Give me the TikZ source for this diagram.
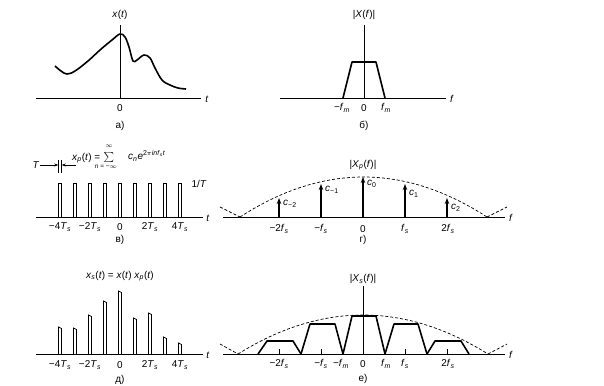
\documentclass[tikz,border=0pt]{standalone}
\usepackage{fontspec}
\setmainfont{Liberation Sans}
\usetikzlibrary{arrows.meta}
\newcommand\I[1]{\textit{#1}}
\newcommand\sbs[1]{\textsubscript{#1}}
\begin{document}
\begin{tikzpicture}[x=1bp,y=-1bp,
  lbl/.style={font=\fontsize{10}{11}\selectfont, inner sep=0pt},
  small/.style={font=\fontsize{6.5}{7}\selectfont, inner sep=0pt},
  ax/.style={line width=0.8bp},
  sig/.style={line width=1.6bp, line join=round},
  pulse/.style={line width=0.7bp},
  dsh/.style={dash pattern=on 3bp off 2bp, line width=0.7bp},
  imp/.style={line width=1.6bp, -{Stealth[length=6bp,width=4.5bp]}},
  dimarrow/.style={line width=0.6bp, -{Stealth[length=4bp,width=3bp]}},
]
\useasboundingbox (0,0) rectangle (604,385);
\fill[white] (0,0) rectangle (604,385);

% ---------------- panel a
\coordinate (a0) at (36,98); \coordinate (a1) at (201,98);
\draw[ax] (a0) -- (a1);
\node[lbl] (at) at (207,99) {\I{t}};
\coordinate (ao) at (120,98); \coordinate (ay) at (120,25);
\draw[ax] (ao) -- (ay);
\node[lbl] (axt) at (120,15) {\I{x}(\I{t})};
\node[lbl] (azero) at (120,108) {0};
\node[lbl] (acap) at (120,126) {а)};
\draw[sig] plot[smooth, tension=0.6] coordinates {(55,66) (61,71) (67,74) (75,71) (88,61) (100,50) (112,40) (120,34) (125,37) (129,47) (133,61) (137,60) (144,55) (150,58) (155,68) (162,80) (170,85) (178,88) (186,89)};

% ---------------- panel b
\coordinate (b0) at (280,98); \coordinate (b1) at (446,98);
\draw[ax] (b0) -- (b1);
\node[lbl] (bf) at (452,99) {\I{f}};
\coordinate (bo) at (364,98); \coordinate (by) at (364,25);
\draw[ax] (bo) -- (by);
\node[lbl] (bX) at (364,15) {|\I{X}(\I{f})|};
\draw[sig] (343,98) -- (352,62) -- (376,62) -- (385,98);
\node[lbl] (bfm1) at (342,108) {−\I{f}\sbs{\I{m}}};
\node[lbl] (bzero) at (364,108) {0};
\node[lbl] (bfm2) at (386,108) {\I{f}\sbs{\I{m}}};
\node[lbl] (bcap) at (364,126) {б)};

% ---------------- panel c (в)
\coordinate (c0) at (36,217); \coordinate (c1) at (203,217);
\draw[ax] (c0) -- (c1);
\node[lbl] (ct) at (208,218) {\I{t}};
\foreach \x in {60,75,...,180}
  \draw[pulse] (\x-1.5,217) -- (\x-1.5,183) -- (\x+1.5,183) -- (\x+1.5,217);
\node[lbl] (cone) at (199,184) {1/\I{T}};
\node[lbl] (cm4) at (60,227) {−4\I{T}\sbs{\I{s}}};
\node[lbl] (cm2) at (90,227) {−2\I{T}\sbs{\I{s}}};
\node[lbl] (czero) at (120,227) {0};
\node[lbl] (cp2) at (150,227) {2\I{T}\sbs{\I{s}}};
\node[lbl] (cp4) at (180,227) {4\I{T}\sbs{\I{s}}};
\node[lbl] (ccap) at (120,240) {в)};
% T dimension
\draw[pulse] (58.5,160) -- (58.5,173);
\draw[pulse] (61.5,160) -- (61.5,173);
\node[lbl] (cT) at (36,165) {\I{T}};
\coordinate (cTl) at (58.3,165); \coordinate (cTr) at (61.7,165);
\coordinate (cTs) at (76,165);
\draw[dimarrow] (cT.east) -- (cTl);
\draw[dimarrow] (cTs) -- (cTr);
% formula
\node[lbl, anchor=west] (cxp) at (72,158) {\I{x}\sbs{\I{p}}(\I{t}) =};
\node[lbl] (csum) at (109,157) {$\sum$};
\node[small] (cinf) at (109,146) {$\infty$};
\node[small] (cn) at (106,167) {\I{n} = −$\infty$};
\node[lbl, anchor=west] (cce) at (128,156) {\I{c}\sbs{\I{n}}\I{e}\textsuperscript{2$\pi$\I{inf}\sbs{\I{s}}\I{t}}};

% ---------------- panel d (г)
\coordinate (d0) at (223,217); \coordinate (d1) at (505,217);
\draw[ax] (d0) -- (d1);
\node[lbl] (df) at (511,218) {\I{f}};
\draw[dsh] (220,207) -- (240,217);
\draw[dsh] plot[domain=240:487, samples=50] (\x, {217-40*(1-((\x-363.5)/123.5)^2)});
\draw[dsh] (487,217) -- (507,207);
\coordinate (dm2b) at (279,217); \coordinate (dm2t) at (279,198);
\coordinate (dm1b) at (321,217); \coordinate (dm1t) at (321,184);
\coordinate (d0b) at (363,217);  \coordinate (d0t) at (363,177);
\coordinate (dp1b) at (405,217); \coordinate (dp1t) at (405,184);
\coordinate (dp2b) at (447,217); \coordinate (dp2t) at (447,198);
\draw[imp] (dm2b) -- (dm2t);
\draw[imp] (dm1b) -- (dm1t);
\draw[imp] (d0b) -- (d0t);
\draw[imp] (dp1b) -- (dp1t);
\draw[imp] (dp2b) -- (dp2t);
\node[lbl, anchor=west] (dcm2) at (283,204) {\I{c}\sbs{−2}};
\node[lbl, anchor=west] (dcm1) at (325,190) {\I{c}\sbs{−1}};
\node[lbl, anchor=west] (dc0) at (367,184) {\I{c}\sbs{0}};
\node[lbl, anchor=west] (dc1) at (409,194) {\I{c}\sbs{1}};
\node[lbl, anchor=west] (dc2) at (451,208) {\I{c}\sbs{2}};
\node[lbl] (dX) at (363,165) {|\I{X}\sbs{\I{p}}(\I{f})|};
\node[lbl] (dlm2) at (279,229) {−2\I{f}\sbs{\I{s}}};
\node[lbl] (dlm1) at (321,229) {−\I{f}\sbs{\I{s}}};
\node[lbl] (dl0) at (363,229) {0};
\node[lbl] (dlp1) at (405,229) {\I{f}\sbs{\I{s}}};
\node[lbl] (dlp2) at (448,229) {2\I{f}\sbs{\I{s}}};
\node[lbl] (dcap) at (363,240) {г)};

% ---------------- panel e (д)
\coordinate (e0) at (36,354); \coordinate (e1) at (203,354);
\draw[ax] (e0) -- (e1);
\node[lbl] (et) at (208,355) {\I{t}};
\foreach \x/\h in {60/327,75/328,90/315,105/301,120/291,135/318,150/313,165/337,180/343}
  \draw[pulse] (\x-1.5,354) -- (\x-1.5,\h) -- (\x+1.5,\h+1.5) -- (\x+1.5,354);
\node[lbl] (exs) at (120,276) {\I{x}\sbs{\I{s}}(\I{t}) = \I{x}(\I{t}) \I{x}\sbs{\I{p}}(\I{t})};
\node[lbl] (em4) at (60,365) {−4\I{T}\sbs{\I{s}}};
\node[lbl] (em2) at (90,365) {−2\I{T}\sbs{\I{s}}};
\node[lbl] (ezero) at (120,365) {0};
\node[lbl] (ep2) at (150,365) {2\I{T}\sbs{\I{s}}};
\node[lbl] (ep4) at (180,365) {4\I{T}\sbs{\I{s}}};
\node[lbl] (ecap) at (120,380) {д)};

% ---------------- panel f (е)
\coordinate (f0) at (223,354); \coordinate (f1) at (505,354);
\draw[ax] (f0) -- (f1);
\node[lbl] (ff) at (511,355) {\I{f}};
\coordinate (fo) at (363,354); \coordinate (fy) at (363,286);
\draw[ax] (fo) -- (fy);
\node[lbl] (fX) at (363,279) {|\I{X}\sbs{\I{s}}(\I{f})|};
\draw[dsh] (220,344) -- (238,354);
\draw[dsh] plot[domain=238:488, samples=50] (\x, {354-39*(1-((\x-363)/125)^2)});
\draw[dsh] (488,354) -- (507,344);
\foreach \x in {279,321,405,447}
  \draw[ax] (\x,354) -- (\x,349);
\draw[sig] (258,354) -- (267,341) -- (293,341) -- (301,354);
\draw[sig] (301,354) -- (310,324) -- (335,324) -- (343,354);
\draw[sig] (343,354) -- (352,316) -- (376,316) -- (385,354);
\draw[sig] (385,354) -- (394,324) -- (418,324) -- (427,354);
\draw[sig] (427,354) -- (435,341) -- (461,341) -- (469,354);
\node[lbl] (flm2) at (279,364) {−2\I{f}\sbs{\I{s}}};
\node[lbl] (flm1) at (321,364) {−\I{f}\sbs{\I{s}}};
\node[lbl] (flmm) at (341,364) {−\I{f}\sbs{\I{m}}};
\node[lbl] (fl0) at (363,364) {0};
\node[lbl] (flpm) at (386,364) {\I{f}\sbs{\I{m}}};
\node[lbl] (flp1) at (405,364) {\I{f}\sbs{\I{s}}};
\node[lbl] (flp2) at (448,364) {2\I{f}\sbs{\I{s}}};
\node[lbl] (fcap) at (363,379) {е)};
\end{tikzpicture}
\end{document}
